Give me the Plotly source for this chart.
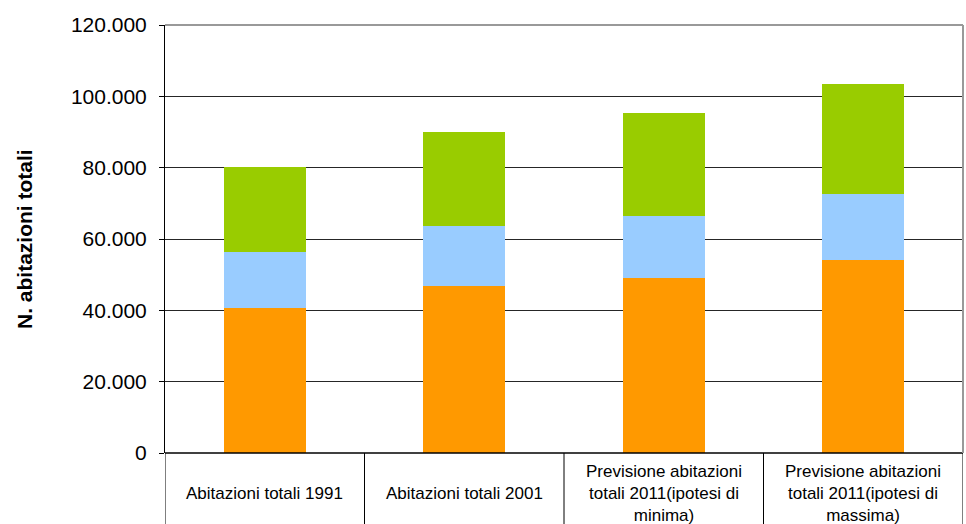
import plotly.graph_objects as go

categories = [
    "Abitazioni totali 1991",
    "Abitazioni totali 2001",
    "Previsione abitazioni<br>totali 2011(ipotesi di<br>minima)",
    "Previsione abitazioni<br>totali 2011(ipotesi di<br>massima)",
]
serie_arancio = [40700, 46900, 49100, 54150]
serie_azzurro = [15700, 16700, 17400, 18450]
serie_verde = [23800, 26400, 28900, 30850]
y_ticks = [0, 20000, 40000, 60000, 80000, 100000, 120000]
y_title = "N. abitazioni totali"

FONT = "Liberation Sans, Arial, sans-serif"
xpos = list(range(len(categories)))

fig = go.Figure()
for vals, col in [(serie_arancio, "#FF9900"), (serie_azzurro, "#99CCFF"), (serie_verde, "#99CC00")]:
    fig.add_trace(go.Bar(x=xpos, y=vals, marker=dict(color=col, line=dict(width=0)),
                         width=0.41, showlegend=False))

fig.update_layout(
    barmode="stack",
    width=966, height=524,
    margin=dict(l=165, r=3, t=25, b=71),
    paper_bgcolor="white", plot_bgcolor="white",
    separators=",.",
    font=dict(family=FONT, color="black"),
)
fig.update_xaxes(range=[-0.5, len(categories) - 0.5], showticklabels=False, showgrid=False,
                 zeroline=False, showline=False)
fig.update_yaxes(range=[0, 120000], tickvals=y_ticks, tickformat=",d",
                 showgrid=True, gridcolor="#262626", gridwidth=1,
                 zeroline=False, showline=True, linecolor="black", linewidth=1,
                 ticks="outside", ticklen=5, tickcolor="black",
                 tickfont=dict(size=21, family=FONT, color="black"),
                 ticklabelstandoff=8)

shapes = []
# table lines below the axis
bottom = -(524 - 453) / 428
for i in range(len(categories) + 1):
    shapes.append(dict(type="line", xref="x", yref="paper", x0=i - 0.5, x1=i - 0.5,
                       y0=bottom, y1=0, line=dict(color="black", width=1)))
shapes.append(dict(type="line", xref="paper", yref="paper", x0=0, x1=1, y0=0, y1=0,
                   line=dict(color="black", width=1.5)))
# grey frame top and right
shapes.append(dict(type="line", xref="paper", yref="paper", x0=0, x1=1, y0=1, y1=1,
                   line=dict(color="#999999", width=2)))
shapes.append(dict(type="line", xref="paper", yref="paper", x0=1, x1=1, y0=0, y1=1,
                   line=dict(color="#999999", width=2)))
fig.update_layout(shapes=shapes)

ann = []
for i, c in enumerate(categories):
    ann.append(dict(x=i, y=(453 - 493) / 428, xref="x", yref="paper", text=c, showarrow=False,
                    xanchor="center", yanchor="middle",
                    font=dict(size=17, family=FONT, color="black")))
ann.append(dict(x=-(165 - 24) / 798, y=0.5, xref="paper", yref="paper", text="<b>" + y_title + "</b>",
                textangle=-90, showarrow=False, xanchor="center", yanchor="middle",
                font=dict(size=21, family=FONT, color="black")))
fig.update_layout(annotations=ann)

fig.write_html("out.html")
